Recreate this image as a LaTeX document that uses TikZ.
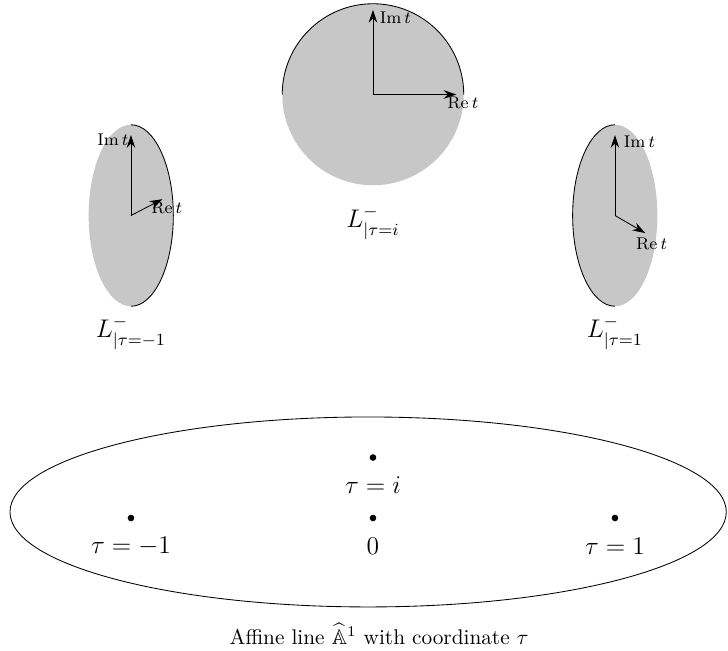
\documentclass[tikz,border=0pt]{standalone}
\usepackage{amsmath, amssymb}
\usetikzlibrary{arrows.meta, positioning}
\definecolor{fibregray}{RGB}{199,199,199}

\begin{document}
\begin{tikzpicture}[
  axis/.style={-{Stealth[length=6pt, width=4pt]}},
  ptdot/.style={circle, fill, inner sep=1.1pt},
  axlabel/.style={font=\footnotesize, inner sep=1pt}]
  \useasboundingbox (-6.165,-2.198) rectangle (5.868,8.562);
  % the affine line and its marked points
  \draw (-0.08,0.1) ellipse [x radius=5.92, y radius=1.57];
  \foreach \nm/\px/\py/\lbl in {pm/-4/0/{\tau=-1}, pz/0/0/{0}, pp/4/0/{\tau=1}, pi/0/1/{\tau=i}} {
    \node[ptdot] (\nm) at (\px,\py) {};
    \node[font=\large] (\nm lbl) at (\px,\py-0.46) {$\lbl$};
  }
  \node (base) at (0.1,-1.92) {Affine line $\widehat{\mathbb{A}}^1$ with coordinate $\tau$};
  % fibre over tau = i
  \fill[fibregray] (0,7) circle [radius=1.5];
  \draw (-1.5,7) arc [start angle=180, end angle=0, radius=1.5];
  \coordinate (oi) at (0,7);
  \coordinate (imi) at (0,8.4);
  \coordinate (rei) at (1.38,7);
  \draw[axis] (oi) -- (imi);
  \draw[axis] (oi) -- (rei);
  \node[axlabel, anchor=north west] (imilbl) at ([xshift=2pt]imi) {$\mathrm{Im}\,t$};
  \node[axlabel, below=0pt of rei, xshift=3pt] (reilbl) {$\mathrm{Re}\,t$};
  \node[font=\large] (Li) at (0,4.88) {$L^-_{|\tau=i}$};
  % fibre over tau = -1
  \fill[fibregray] (-4,5) ellipse [x radius=0.7, y radius=1.5];
  \draw (-4,6.5) arc [start angle=90, end angle=-90, x radius=0.7, y radius=1.5];
  \coordinate (om) at (-4,5);
  \coordinate (imm) at (-4,6.33);
  \coordinate (rem) at (-3.48,5.27);
  \draw[axis] (om) -- (imm);
  \draw[axis] (om) -- (rem);
  \node[axlabel, left] (immlbl) at ([yshift=-2pt]imm) {$\mathrm{Im}\,t$};
  \node[axlabel, below=0pt of rem, xshift=2pt] (remlbl) {$\mathrm{Re}\,t$};
  \node[font=\large] (Lm) at (-4,3.06) {$L^-_{|\tau=-1}$};
  % fibre over tau = 1
  \fill[fibregray] (4,5) ellipse [x radius=0.7, y radius=1.5];
  \draw (4,6.5) arc [start angle=90, end angle=270, x radius=0.7, y radius=1.5];
  \coordinate (op) at (4,5);
  \coordinate (imp) at (4,6.33);
  \coordinate (rep) at (4.5,4.71);
  \draw[axis] (op) -- (imp);
  \draw[axis] (op) -- (rep);
  \node[axlabel, anchor=north west] (implbl) at ([xshift=3pt,yshift=1pt]imp) {$\mathrm{Im}\,t$};
  \node[axlabel, below=1pt of rep, xshift=3pt] (replbl) {$\mathrm{Re}\,t$};
  \node[font=\large] (Lp) at (4,3.06) {$L^-_{|\tau=1}$};
\end{tikzpicture}
\end{document}
